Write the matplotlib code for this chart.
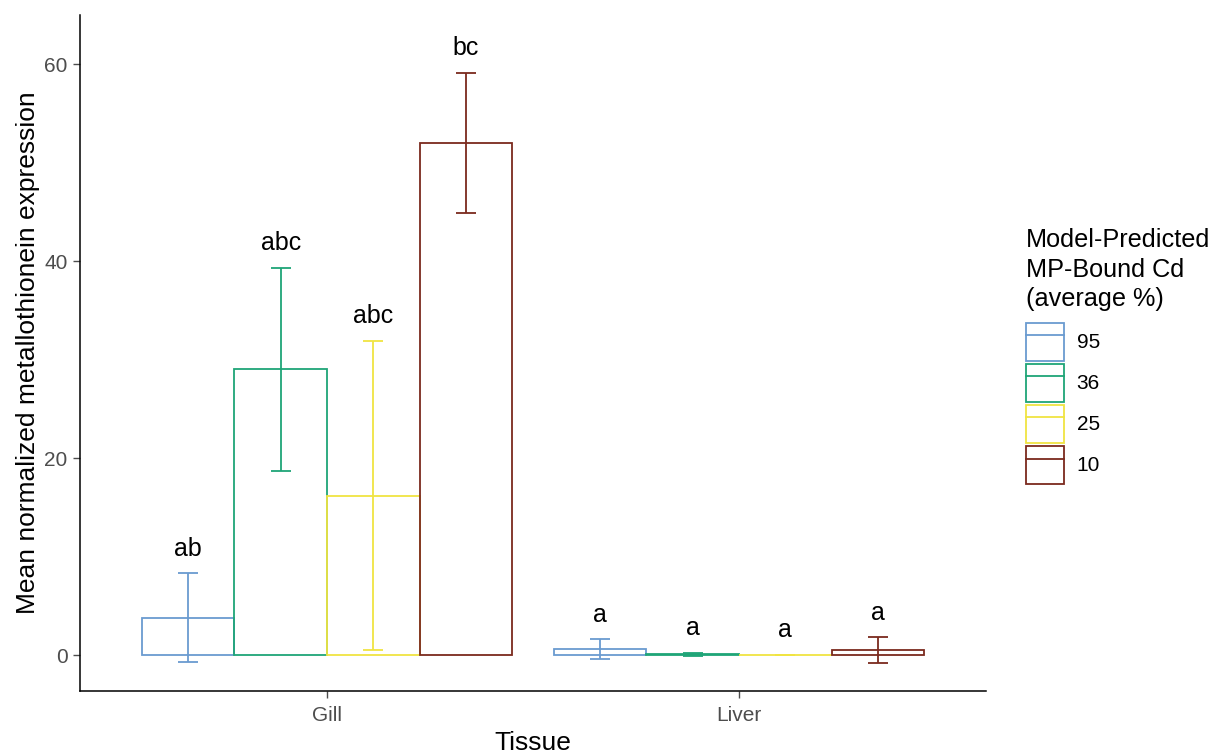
import matplotlib
matplotlib.use("Agg")
import matplotlib.pyplot as plt
import numpy as np
from matplotlib.patches import Patch
from matplotlib.lines import Line2D
from matplotlib.legend_handler import HandlerTuple

plt.rcParams['font.family'] = ['Liberation Sans', 'DejaVu Sans']

tissues = ["Gill", "Liver"]
groups = ["95", "36", "25", "10"]
group_colors = ["#6A9BD0", "#1FA577", "#F0E442", "#7B2A1E"]

# mean expression and standard error, one row per tissue
means = [[3.8, 29.0, 16.2, 52.0],
         [0.6, 0.1, 0.0, 0.5]]
errors = [[4.5, 10.35, 15.7, 7.15],
          [1.0, 0.15, 0.0, 1.3]]
letters = [["ab", "abc", "abc", "bc"],
           ["a", "a", "a", "a"]]

DODGE = 0.9
TEXT_GREY = '#4D4D4D'
LW = 1.3

fig = plt.figure(figsize=(12.14, 7.56), dpi=100)
ax = fig.add_axes([80 / 1214, 1 - 691 / 756, 906 / 1214, 676 / 756])

n = len(groups)
bar_w = DODGE / n
for ti, tissue in enumerate(tissues):
    for gi in range(n):
        x = (ti + 1) - DODGE / 2 + bar_w * (gi + 0.5)
        m = means[ti][gi]
        e = errors[ti][gi]
        c = group_colors[gi]
        ax.bar(x, m, width=bar_w, facecolor='none', edgecolor=c, linewidth=LW, zorder=2)
        ax.errorbar(x, m, yerr=e, ecolor=c, elinewidth=LW, capsize=7.2,
                    capthick=LW, fmt='none', zorder=3)
        ax.text(x, m + e + 2.5, letters[ti][gi], ha='center', va='center',
                fontsize=18, color='black')

ax.set_xlim(0.4, 2.6)
ax.set_ylim(-3.65, 65)
ax.set_xticks([1, 2])
ax.set_xticklabels(tissues)
ax.set_yticks([0, 20, 40, 60])

for side in ['top', 'right']:
    ax.spines[side].set_visible(False)
for side in ['left', 'bottom']:
    ax.spines[side].set_linewidth(1.1)
    ax.spines[side].set_color('black')
ax.tick_params(axis='both', colors=TEXT_GREY, labelsize=15, length=5, width=1.0, pad=4)
ax.tick_params(axis='x', pad=6)

ax.set_xlabel("Tissue", fontsize=19, labelpad=4)
ax.set_ylabel("Mean normalized metallothionein expression", fontsize=19, labelpad=3)

handles = [(Patch(facecolor='none', edgecolor=c, linewidth=LW),
            Line2D([], [], color=c, linewidth=LW)) for c in group_colors]
leg = fig.legend(handles, groups, loc='upper left',
                 bbox_to_anchor=(1026 / 1214, 1 - 228 / 756),
                 handler_map={tuple: HandlerTuple(ndivide=1, pad=0)},
                 frameon=False, fontsize=15, title="Model-Predicted\nMP-Bound Cd\n(average %)",
                 title_fontsize=18.2, alignment='left', handlelength=1.83, handleheight=2.43,
                 labelspacing=0.15, handletextpad=0.6, borderpad=0, borderaxespad=0)
leg.get_title().set_linespacing(1.3)
leg._legend_box.sep = 8

fig.savefig('out.png', dpi=100)
